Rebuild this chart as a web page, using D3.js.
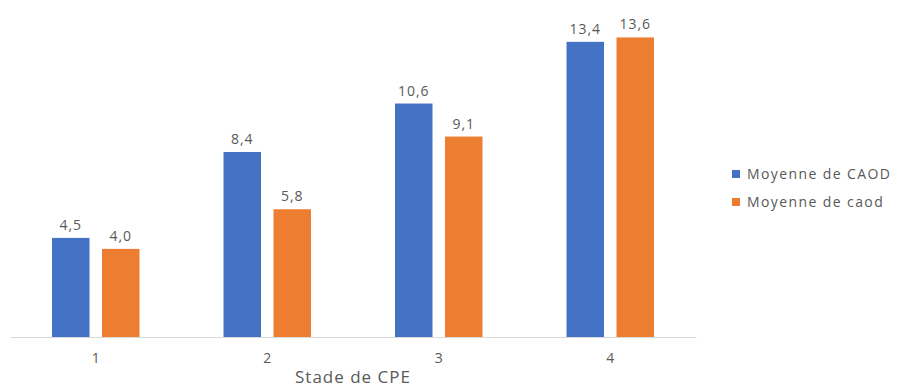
<!DOCTYPE html>
<html lang="fr">
<head>
<meta charset="utf-8"/>
<script src="https://d3js.org/d3.v7.min.js"></script>
<style>
  body { margin: 0; background: #fff; }
  text { font-family: "Open Sans", "Liberation Sans", sans-serif; fill: #595959; }
</style>
</head>
<body>
<div id="chart"></div>
<script>
  // data
  var stades = ["1", "2", "3", "4"];
  var seriesNames = ["Moyenne de CAOD", "Moyenne de caod"];
  var caodUpper = [4.5, 8.4, 10.6, 13.4];
  var caodLower = [4.0, 5.8, 9.1, 13.6];
  var colors = ["#4472c4", "#ed7d31"];

  var width = 900, height = 391;
  var margin = { top: 0, right: 204, bottom: 54, left: 10 };
  var innerW = width - margin.left - margin.right,
      innerH = height - margin.top - margin.bottom;

  var svg = d3.select("#chart").append("svg")
      .attr("width", width)
      .attr("height", height);

  var g = svg.append("g")
      .attr("transform", "translate(" + margin.left + "," + margin.top + ")");

  var x = d3.scaleBand()
      .domain(stades)
      .range([0, innerW])
      .paddingInner(0.49)
      .paddingOuter(0.245);

  var xSub = d3.scaleBand()
      .domain(seriesNames)
      .range([0, x.bandwidth()])
      .paddingInner(0.25);

  var y = d3.scaleLinear()
      .domain([0, 15.3])
      .range([innerH, 0]);

  var rows = stades.map(function(s, i) {
    return { stade: s, values: [caodUpper[i], caodLower[i]] };
  });

  var groups = g.selectAll(".grp")
    .data(rows)
    .enter().append("g")
      .attr("class", "grp")
      .attr("transform", function(d) { return "translate(" + x(d.stade) + ",0)"; });

  groups.selectAll("rect")
    .data(function(d) { return d.values.map(function(v, j) { return { name: seriesNames[j], v: v, j: j }; }); })
    .enter().append("rect")
      .attr("x", function(d) { return xSub(d.name); })
      .attr("y", function(d) { return y(d.v); })
      .attr("width", xSub.bandwidth())
      .attr("height", function(d) { return innerH - y(d.v); })
      .attr("fill", function(d) { return colors[d.j]; });

  groups.selectAll(".lbl")
    .data(function(d) { return d.values.map(function(v, j) { return { name: seriesNames[j], v: v }; }); })
    .enter().append("text")
      .attr("class", "lbl")
      .attr("x", function(d) { return xSub(d.name) + xSub.bandwidth() / 2; })
      .attr("y", function(d) { return y(d.v) - 8; })
      .attr("text-anchor", "middle")
      .style("font-size", "14px")
      .style("letter-spacing", "1px")
      .text(function(d) { return d.v.toFixed(1).replace(".", ","); });

  // x axis
  var xAxis = g.append("g")
      .attr("transform", "translate(0," + innerH + ")")
      .call(d3.axisBottom(x).tickSize(0).tickPadding(16));
  xAxis.select(".domain").attr("stroke", "#d9d9d9").attr("stroke-width", 1);
  xAxis.selectAll("text")
      .style("font-size", "14px")
      .style("fill", "#595959")
      .style("font-family", "'Open Sans', sans-serif");

  g.append("text")
      .attr("x", innerW / 2)
      .attr("y", innerH + 46)
      .attr("text-anchor", "middle")
      .style("font-size", "17px")
      .style("letter-spacing", "1px")
      .text("Stade de CPE");

  // legend
  var legend = svg.append("g")
      .attr("transform", "translate(732,170)");
  seriesNames.forEach(function(n, i) {
    legend.append("rect")
      .attr("x", 0)
      .attr("y", i * 28)
      .attr("width", 8)
      .attr("height", 8)
      .attr("fill", colors[i]);
    legend.append("text")
      .attr("x", 15)
      .attr("y", i * 28 + 4)
      .attr("dy", "0.35em")
      .style("font-size", "14px")
      .style("letter-spacing", "1.4px")
      .text(n);
  });
</script>
</body>
</html>
